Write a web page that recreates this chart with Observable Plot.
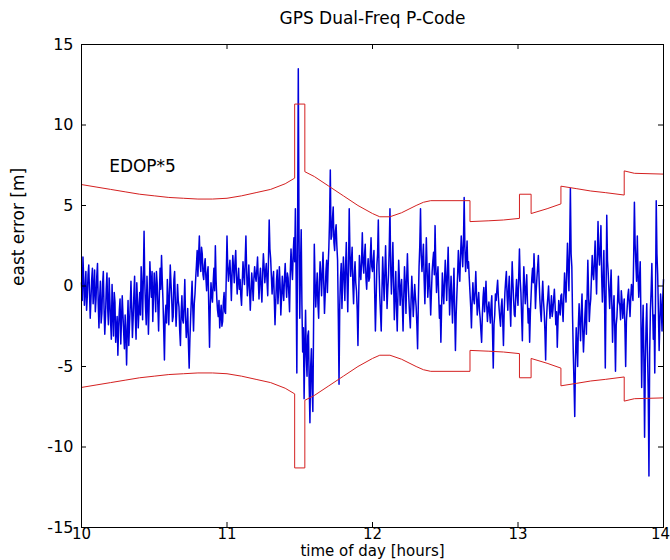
<!DOCTYPE html>
<html>
<head>
<meta charset="utf-8">
<script src="https://cdn.jsdelivr.net/npm/d3@7"></script>
<script src="https://cdn.jsdelivr.net/npm/@observablehq/plot@0.6"></script>
<style>
  html, body { margin: 0; padding: 0; background: #fff; }
  #chart svg { display: block; }
</style>
</head>
<body>
<div id="chart"></div>
<script>
// ---- text ----
const title = "GPS Dual-Freq P-Code";
const xLabel = "time of day [hours]";
const yLabel = "east error [m]";
const edopLabel = "EDOP*5";

// ---- ticks ----
const xTicks = [10, 11, 12, 13, 14];
const yTicks = [-15, -10, -5, 0, 5, 10, 15];

// ---- east error series (sampled every 0.005 h from 10.000 to 14.000) ----
const tStart = 10;
const tStep = 0.005;
const eastError = [
  0.2, -0.9, 1.8, 0.5, -1.2, -0.3, 0.9, -1.5, -0.6, 0.7,
  1.3, -0.4, -2.0, -0.8, 0.4, 1.1, -1.1, -0.2, 1.0, -1.6,
  -0.8, 0.6, 1.4, -1.1, -2.6, -0.7, 0.3, -2.3, -1.7, 0.1,
  0.9, -1.4, -3.0, -1.9, -0.2, 0.8, -1.4, -2.4, 0.5, -0.9,
  -2.2, -3.3, 0.1, -1.6, -3.1, -0.4, -1.0, -3.5, -2.7, -1.9,
  -4.3, -2.6, -1.5, -0.8, -3.6, -2.1, -0.6, -1.8, -2.9, -3.9,
  -1.8, -3.0, -4.9, -2.5, -0.9, -3.7, -2.4, -1.2, 0.3, -1.4,
  -3.2, -2.0, -0.5, 0.6, -1.9, -3.3, 0.2, -1.0, -2.6, -1.5,
  -0.4, -1.8, 1.2, 0.1, -2.1, 0.5, 3.4, 0.2, -1.3, -2.4,
  0.6, -0.9, -3.0, -1.1, 1.5, 0.3, -0.7, 0.9, -2.2, -0.5,
  0.8, -0.3, -1.6, 0.9, 0.2, -1.3, -2.8, -0.6, 1.1, -0.2,
  1.9, 0.4, -0.9, -2.7, -4.6, -1.9, -1.2, -2.3, 0.4, -0.7,
  -2.4, -0.5, 1.3, 0.2, -0.8, -2.2, -1.9, 0.4, 0.9, -1.0,
  -2.5, -1.4, 0.1, -0.9, -1.3, -2.8, -3.7, -1.6, -0.6, -2.1,
  -2.3, -1.2, 0.4, -1.9, -3.2, -2.6, -1.4, -3.6, -5.1, -3.3,
  -2.0, -0.8, 0.3, -1.4, -2.8, -1.1, -0.5, 0.5, 1.3, 2.2,
  0.6, 1.9, 3.1, 1.4, 0.9, 2.4, 2.0, 0.7, 0.4, 1.3,
  1.7, 0.5, -0.3, 0.8, 1.2, -1.5, -3.8, -1.2, 0.2, -0.6,
  -1.0, 0.2, 1.1, -0.3, 2.5, 0.4, -0.8, -1.5, -1.9, -0.9,
  -2.6, -1.8, -1.2, -2.5, -2.2, -1.0, -0.4, -1.6, -1.7, 0.6,
  3.1, 1.2, 0.3, 1.0, 1.6, 0.5, -0.9, 0.8, 1.9, 1.1,
  0.2, 1.5, 2.2, 0.6, -0.5, 0.4, 1.1, -0.2, 0.4, -0.6,
  -1.2, 0.3, 1.5, 0.7, 0.1, 1.6, 3.1, 0.9, -0.6, 0.2,
  1.3, -0.2, -1.5, -0.4, 0.8, 0.1, -0.9, 0.5, 1.2, 0.6,
  0.3, 1.0, 1.8, 0.4, -0.8, 0.5, 1.1, -0.2, -1.0, 0.8,
  2.0, 1.2, 0.2, 0.9, 1.4, 0.3, -0.6, 1.6, 4.1, 2.3,
  1.7, 0.6, -0.5, 0.4, 0.9, -0.8, -2.4, -1.0, 0.3, 1.0,
  -1.1, -0.2, 1.2, 0.1, -1.8, -0.7, 0.6, -0.3, -0.9, 0.5,
  1.4, 0.2, -0.7, 0.8, 0.5, -0.5, -1.6, 0.9, 2.3, 1.1,
  0.4, 2.0, 3.0, 1.5, 4.8, 0.6, -5.4, 2.8, 13.5, 3.2,
  -2.0, 1.1, 3.5, -1.2, -4.1, -2.6, -7.0, -3.8, -1.5, -4.4,
  -5.6, -3.1, -2.8, -6.2, -8.5, -5.0, -3.9, -6.4, -7.8, -2.5,
  2.6, 0.4, -1.3, -0.2, 0.8, -1.1, -2.0, 0.3, 1.5, 0.6,
  -0.6, 0.9, 2.1, 0.2, -1.7, -0.5, 0.9, 1.6, -0.4, 1.2,
  2.4, 4.1, 7.2, 2.9, 3.1, 4.2, 4.9, 2.7, 2.2, 3.4,
  3.8, 2.5, 1.6, -1.9, -6.1, -1.2, 0.5, 1.4, -1.4, 0.3,
  1.8, 0.6, -0.9, 1.2, 2.7, 0.4, -1.6, 0.9, 4.8, 2.1,
  0.6, 1.5, 2.4, 0.1, -1.1, 0.7, 1.5, 0.2, -0.3, -1.5,
  -3.7, -0.8, 1.9, 0.9, 0.4, 1.6, 3.3, 1.4, 0.8, 1.9,
  2.6, 0.5, -0.2, 0.9, 1.7, 0.3, 0.5, 1.8, 3.0, 1.2,
  0.9, 1.6, 2.2, -0.4, -2.8, -0.9, 1.3, 2.0, 4.1, 1.0,
  -0.6, -1.7, -2.8, -0.3, 1.8, 0.5, -0.9, 0.8, 2.5, 0.6,
  -1.4, -0.2, 0.7, 2.3, 4.8, 1.2, -0.5, 1.0, 2.7, 0.2,
  -2.1, -0.6, 0.9, -1.3, -2.8, -0.5, 1.6, 0.4, -1.2, -0.1,
  0.4, -1.1, -2.8, -0.6, 1.2, 0.1, -1.7, 0.5, 2.0, 0.3,
  -0.8, -1.8, -2.6, -0.9, 0.6, -0.5, -1.9, -1.0, 0.1, -0.7,
  -1.3, -2.4, -3.9, -1.0, 1.2, 2.5, 4.8, 1.9, 0.9, 1.7,
  2.6, 0.4, -1.1, 0.8, 3.0, 1.1, -0.7, 0.2, 1.4, -0.3,
  -1.8, -0.4, 0.9, 1.6, 2.1, 0.7, 3.75, 1.3, -0.4, 0.5,
  1.2, -0.6, -2.0, -1.2, -3.5, -1.4, 0.8, -0.2, -1.1, 0.3,
  1.6, 0.4, -0.9, 0.8, 2.4, 0.3, -1.8, -0.6, 0.6, -0.9,
  -2.3, -0.4, 1.1, -1.6, -4.0, -1.8, -0.5, 0.7, 2.2, 1.0,
  0.3, 1.9, 3.1, 2.2, 1.2, 2.6, 5.5, 2.4, 0.9, 1.8,
  2.8, 1.1, 1.5, 0.5, -0.4, -1.3, -2.6, -0.9, 0.2, -0.8,
  -1.1, -0.3, 0.9, -0.6, -1.8, -1.0, -0.4, -1.5, -2.0, -2.8,
  -3.5, -1.8, -0.7, -0.1, -1.6, -0.8, 0.3, -1.2, -2.2, -1.4,
  -1.0, -1.7, -2.3, -1.2, -0.6, -2.9, -5.1, -2.4, -1.8, -0.5,
  -0.9, -0.2, 0.35, -0.7, -1.4, -2.0, -2.5, -1.3, -0.8, -2.1,
  -3.7, -1.6, -0.4, 0.3, 0.9, -0.6, -1.5, -0.2, 0.6, -1.2,
  -2.5, -0.4, 1.5, 0.2, -0.9, -1.8, -1.9, -0.5, 0.4, -0.6,
  -1.2, 0.6, 2.3, 0.4, -0.4, -1.9, -3.4, -0.8, 1.2, 0.1,
  -1.1, -0.2, 0.7, -1.0, -2.3, -1.4, -3.5, -1.7, -0.6, 0.5,
  1.1, 0.2, 2.0, 0.7, -1.4, -0.3, 0.5, 1.2, 1.9, 0.4,
  -0.8, -1.6, -2.2, -0.7, 0.3, -0.9, -1.6, -2.8, -4.6, -2.2,
  -1.3, -0.7, 0.0, -1.1, -2.0, -1.4, -0.6, -1.9, -1.5, -0.8,
  -0.2, -1.2, -2.4, -1.6, -3.8, -2.2, -0.9, -1.5, -1.8, -0.6,
  -0.5, -1.4, -2.2, -0.6, 0.8, -0.2, -1.0, 0.9, 2.65, 1.1,
  -0.3, 2.4, 6.05, 2.0, 1.2, -1.9, -4.2, -6.0, -8.1, -4.6,
  -2.6, -3.7, -5.0, -2.4, -1.1, -2.3, -3.4, -1.6, -0.5, -2.8,
  -4.1, -2.9, -1.8, -0.9, -3.0, -0.6, 1.6, -0.4, -2.2, -1.3,
  -0.8, 0.6, 1.9, 0.8, 0.4, 1.5, 2.8, 0.9, -0.5, 1.7,
  4.0, 2.1, 1.3, 2.4, 3.75, 0.6, -1.0, 0.5, 2.2, -0.9,
  -5.1, -0.7, 4.4, 1.6, 0.8, -0.3, -1.4, -0.2, 1.0, -1.2,
  -3.5, -1.5, -0.6, -2.6, -5.3, -2.4, -1.9, -0.8, 0.6, -1.0,
  -1.2, -2.1, -0.3, -0.9, -2.0, -1.3, -0.8, -2.6, -5.0, -2.2,
  -1.4, -0.6, -0.2, -1.1, -1.9, -0.7, 0.1, -0.4, -0.9, 1.8,
  5.2, 2.6, 1.4, 0.3, 3.1, 0.8, -0.7, 0.4, 1.5, -2.1,
  -6.3, -3.0, -1.2, -4.4, -9.4, -4.8, -2.6, -1.1, -4.0, -6.5,
  -11.8, -4.2, -1.5, -0.3, 1.4, -1.2, -3.3, -1.8, -5.4, -0.9,
  5.3, 2.0, 0.7, -1.6, -4.0, -2.2, -0.5, -1.4, -2.8, -0.7,
  0.4
];

// ---- EDOP*5 envelope (drawn as +/-) ----
const edopTime = [10.0, 10.1, 10.2, 10.3, 10.4, 10.5, 10.6, 10.7, 10.8, 10.9,
  11.0, 11.1, 11.2, 11.3, 11.4, 11.465, 11.465, 11.535, 11.535, 11.6,
  11.7, 11.8, 11.9, 12.0, 12.05, 12.12, 12.2, 12.3, 12.35, 12.4,
  12.67, 12.67, 12.8, 12.9, 13.01, 13.01, 13.09, 13.09, 13.2, 13.295,
  13.295, 13.4, 13.5, 13.6, 13.73, 13.73, 13.8, 14.0];
const edop5 = [6.3, 6.15, 6.0, 5.85, 5.7, 5.6, 5.5, 5.45, 5.4, 5.4,
  5.45, 5.6, 5.8, 6.0, 6.35, 6.7, 11.3, 11.3, 7.1, 6.8,
  6.2, 5.6, 5.0, 4.5, 4.3, 4.3, 4.55, 5.0, 5.2, 5.3,
  5.3, 4.0, 4.05, 4.1, 4.2, 5.7, 5.7, 4.5, 4.8, 5.1,
  6.2, 6.05, 5.9, 5.8, 5.65, 7.15, 7.0, 6.95];

// ---- build tables ----
const eastData = eastError.map((v, i) => ({t: tStart + i * tStep, v}));
const edopData = edopTime.map((t, i) => ({t, up: edop5[i], dn: -edop5[i]}));
const edopLabelData = [{t: 10.19, v: 7.4, label: edopLabel}];
const xTicksInner = xTicks.slice(0, -1);
const xTickLast = xTicks.slice(-1);

const font = "DejaVu Sans";
const blue = "#0000dd";
const red = "#d42020";
const fmt = d => String(d);

const chart = Plot.plot({
  width: 670,
  height: 560,
  marginLeft: 81,
  marginRight: 7,
  marginTop: 44,
  marginBottom: 33,
  style: {fontFamily: font, fontSize: "15px", color: "#000", background: "#fff"},
  x: {domain: [10, 14]},
  y: {domain: [-15, 15]},
  marks: [
    Plot.line(eastData, {x: "t", y: "v", stroke: blue, strokeWidth: 1.5}),
    Plot.line(edopData, {x: "t", y: "up", stroke: red, strokeWidth: 1}),
    Plot.line(edopData, {x: "t", y: "dn", stroke: red, strokeWidth: 1}),
    Plot.text(edopLabelData, {x: "t", y: "v", text: "label", textAnchor: "start", fontSize: 17, fill: "#000"}),
    Plot.frame({stroke: "#000", strokeWidth: 1}),
    // inward tick marks on all four sides
    Plot.tickX(xTicks, {x: d => d, insetTop: 478, stroke: "#000"}),
    Plot.tickX(xTicks, {x: d => d, insetBottom: 478, stroke: "#000"}),
    Plot.tickY(yTicks, {y: d => d, insetRight: 577, stroke: "#000"}),
    Plot.tickY(yTicks, {y: d => d, insetLeft: 577, stroke: "#000"}),
    // tick labels
    Plot.axisX(xTicksInner, {anchor: "bottom", tickSize: 0, tickPadding: 1, tickFormat: fmt, label: null, fontSize: 15}),
    Plot.axisX(xTickLast, {anchor: "bottom", tickSize: 0, tickPadding: 1, tickFormat: fmt, label: null, fontSize: 15, dx: -3}),
    Plot.axisY(yTicks, {anchor: "left", tickSize: 0, tickPadding: 8, tickFormat: fmt, label: null, fontSize: 16}),
    Plot.text([title], {frameAnchor: "top", lineAnchor: "middle", dy: -26, fontSize: 17, fill: "#000"}),
    Plot.text([xLabel], {frameAnchor: "bottom", dy: 28, lineAnchor: "bottom", fontSize: 15, fill: "#000"}),
    Plot.text([yLabel], {frameAnchor: "left", dx: -63, rotate: -90, fontSize: 17, fill: "#000"})
  ]
});

document.getElementById("chart").appendChild(chart);
</script>
</body>
</html>
